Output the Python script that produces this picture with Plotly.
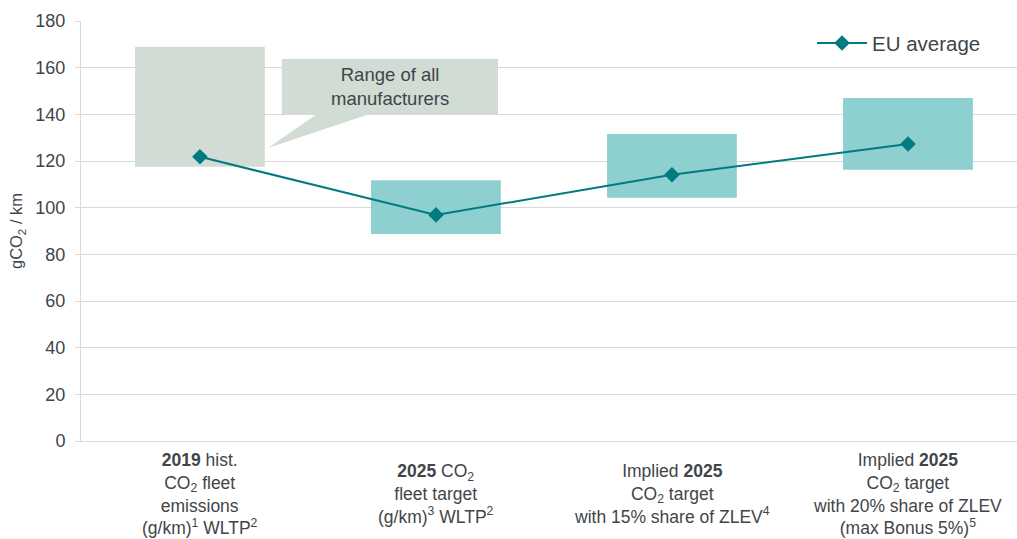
import plotly.graph_objects as go

categories = ["2019 hist", "2025 target", "2025 ZLEV15", "2025 ZLEV20"]
tick_labels = [
    "<b>2019</b> hist.<br>CO<sub>2</sub> fleet<br>emissions<br>(g/km)<sup>1</sup> WLTP<sup>2</sup>",
    "<b>2025</b> CO<sub>2</sub><br>fleet target<br>(g/km)<sup>3</sup> WLTP<sup>2</sup>",
    "Implied <b>2025</b><br>CO<sub>2</sub> target<br>with 15% share of ZLEV<sup>4</sup>",
    "Implied <b>2025</b><br>CO<sub>2</sub> target<br>with 20% share of ZLEV<br>(max Bonus 5%)<sup>5</sup>",
]
range_low = [117.5, 88.7, 104.2, 116.2]
range_high = [169.0, 111.8, 131.6, 147.0]
eu_average = [121.8, 96.9, 114.1, 127.3]
y_ticks = [0, 20, 40, 60, 80, 100, 120, 140, 160, 180]

GRAY_BOX = "#D1DCD5"
TEAL_BOX = "#8DD0CF"
TEAL_LINE = "#007B80"
TEXT = "#3F4549"
GRID = "#D9D9D9"
FONT = "Liberation Sans, Arial, sans-serif"

box_colors = [GRAY_BOX, TEAL_BOX, TEAL_BOX, TEAL_BOX]

fig = go.Figure()
fig.add_trace(go.Bar(
    x=categories,
    y=[h - l for h, l in zip(range_high, range_low)],
    base=range_low,
    width=0.55,
    marker=dict(color=box_colors, line=dict(width=0)),
    showlegend=False,
    hoverinfo="skip",
))
fig.add_trace(go.Scatter(
    x=categories, y=eu_average, mode="lines+markers", name="EU average",
    line=dict(color=TEAL_LINE, width=2),
    marker=dict(symbol="diamond", size=12, color=TEAL_LINE),
))

# Callout "Range of all manufacturers"
fig.add_shape(
    type="path",
    path="M 0.347 140.1 L 0.496 140.1 L 0.288 125.6 L 0.720 140.1 L 1.263 140.1 "
         "L 1.263 163.7 L 0.347 163.7 Z",
    xref="x", yref="y", fillcolor=GRAY_BOX, line=dict(width=0), layer="above",
)
fig.add_annotation(
    x=0.805, y=151.8, xref="x", yref="y", text="Range of all<br>manufacturers",
    showarrow=False, font=dict(size=18.5, color=TEXT, family=FONT),
)

for cat, lab in zip(categories, tick_labels):
    fig.add_annotation(
        x=cat, y=-0.127, xref="x", yref="paper", text=lab, showarrow=False,
        yanchor="middle", xanchor="center",
        font=dict(size=17.5, color=TEXT, family=FONT),
    )

fig.update_layout(
    width=1017, height=539,
    margin=dict(l=81, r=0, t=21, b=98),
    plot_bgcolor="white", paper_bgcolor="white",
    font=dict(family=FONT, color=TEXT, size=17),
    barmode="overlay",
    legend=dict(x=0.781, y=0.995, xanchor="left", yanchor="top", itemwidth=50,
                bgcolor="rgba(0,0,0,0)", font=dict(size=20.5, color=TEXT)),
    xaxis=dict(
        type="category", categoryorder="array", categoryarray=categories,
        range=[-0.504, 3.462], showticklabels=False, showgrid=False,
        showline=True, linecolor=GRID, linewidth=1, zeroline=False, ticks="",
    ),
    yaxis=dict(
        range=[0, 180], tickvals=y_ticks, showgrid=True, gridcolor=GRID, gridwidth=1,
        showline=True, linecolor=GRID, linewidth=1, ticks="outside", ticklen=5,
        tickcolor=GRID, zeroline=False, tickfont=dict(size=18, color=TEXT),
        ticklabelstandoff=6,
        title=dict(text="gCO<sub>2</sub> / km", font=dict(size=16.5, color=TEXT), standoff=8),
    ),
)

fig.write_html("out.html")
